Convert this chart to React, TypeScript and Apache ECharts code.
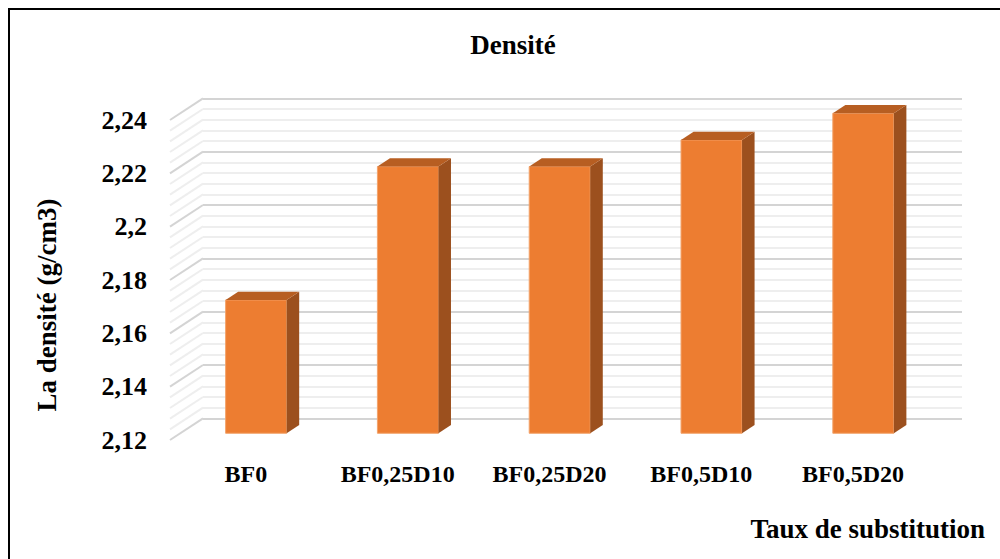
import React, { useEffect, useRef } from "react";
import * as echarts from "echarts";

// Density per mix
const categories = ["BF0", "BF0,25D10", "BF0,25D20", "BF0,5D10", "BF0,5D20"];
const densities = [2.17, 2.22, 2.22, 2.23, 2.24];

// Value axis
const yMin = 2.12;
const yMax = 2.24;
const yStep = 0.02;
const minorPerStep = 5;

const FONT = "Liberation Serif";

// Pseudo-3D depth: offset of the back wall relative to the front plane
const DEPTH_DX = 33;
const DEPTH_DY = -21.7;
// Bar front face and back face, as fractions of the depth
const BAR_FRONT = 0.31;
const BAR_BACK = 0.69;
const BAR_WIDTH = 0.402;

const fmt = (v: number) => String(parseFloat(v.toFixed(3))).replace(".", ",");

// Every back-wall line level (major + minor), used for the side diagonals
const gridLevels: number[] = [];
{
  const steps = Math.round((yMax - yMin) / yStep);
  for (let i = 0; i <= steps * minorPerStep; i++) {
    gridLevels.push(+(yMin + (i * yStep) / minorPerStep).toFixed(4));
  }
}

export default function App() {
  const ref = useRef<HTMLDivElement>(null);

  useEffect(() => {
    if (!ref.current) return;
    const chart = echarts.init(ref.current, undefined, { renderer: "svg" });

    const frontDx = DEPTH_DX * BAR_FRONT;
    const frontDy = DEPTH_DY * BAR_FRONT;
    const depthDx = DEPTH_DX * (BAR_BACK - BAR_FRONT);
    const depthDy = DEPTH_DY * (BAR_BACK - BAR_FRONT);

    const textBase = { color: "#000", fontFamily: FONT, fontWeight: "bold" as const };

    chart.setOption({
      animation: false,
      backgroundColor: "#ffffff",
      grid: [
        // front plane (labels, bars)
        { left: 170, top: 120, width: 759, height: 320 },
        // back wall (gridlines)
        { left: 203, top: 98.3, width: 759, height: 320 },
      ],
      xAxis: [
        {
          type: "category",
          gridIndex: 0,
          data: categories,
          boundaryGap: true,
          axisLine: { show: false },
          axisTick: { show: false },
          axisLabel: { ...textBase, margin: 22, fontSize: 24 },
        },
        {
          type: "category",
          gridIndex: 1,
          data: categories,
          show: false,
        },
      ],
      yAxis: [
        {
          type: "value",
          gridIndex: 0,
          min: yMin,
          max: yMax,
          interval: yStep,
          axisLine: { show: false },
          axisTick: { show: false },
          splitLine: { show: false },
          axisLabel: {
            ...textBase,
            margin: 23,
            fontSize: 26,
            formatter: (v: number) => fmt(v),
          },
        },
        {
          type: "value",
          gridIndex: 1,
          min: yMin,
          max: yMax,
          interval: yStep,
          axisLine: { show: false },
          axisTick: { show: false },
          axisLabel: { show: false },
          minorTick: { show: false, splitNumber: minorPerStep },
          splitLine: { show: true, lineStyle: { color: "#d4d4d4", width: 2 } },
          minorSplitLine: { show: true, lineStyle: { color: "#eeeeee", width: 2 } },
        },
      ],
      series: [
        {
          // diagonals joining the front plane to the back wall
          type: "custom",
          xAxisIndex: 0,
          yAxisIndex: 0,
          silent: true,
          z: 1,
          data: gridLevels.map((v) => [0, v]),
          renderItem: (params: any, api: any) => {
            const val = api.value(1);
            const p = api.coord([0, val]);
            const x0 = params.coordSys.x;
            const major = Math.abs((val - yMin) / yStep - Math.round((val - yMin) / yStep)) < 1e-6;
            return {
              type: "line",
              shape: { x1: x0, y1: p[1], x2: x0 + DEPTH_DX, y2: p[1] + DEPTH_DY },
              style: { stroke: major ? "#d4d4d4" : "#eeeeee", lineWidth: 2 },
            };
          },
        },
        {
          // 3D-looking bars
          type: "custom",
          xAxisIndex: 0,
          yAxisIndex: 0,
          z: 3,
          data: densities.map((v, i) => [i, v]),
          renderItem: (params: any, api: any) => {
            const idx = api.value(0);
            const val = api.value(1);
            const top = api.coord([idx, val]);
            const base = api.coord([idx, yMin]);
            const cw = api.size([1, 0])[0];
            const w = cw * BAR_WIDTH;
            const l = top[0] - w / 2 + frontDx;
            const r = l + w;
            const t = top[1] + frontDy;
            const b = base[1] + frontDy;
            return {
              type: "group",
              children: [
                {
                  type: "polygon",
                  shape: { points: [[l, t], [r, t], [r, b], [l, b]] },
                  style: { fill: "#ED7D31", stroke: "#F3A36B", lineWidth: 1 },
                },
                {
                  type: "polygon",
                  shape: {
                    points: [
                      [r, t],
                      [r + depthDx, t + depthDy],
                      [r + depthDx, b + depthDy],
                      [r, b],
                    ],
                  },
                  style: { fill: "#9C501E" },
                },
                {
                  type: "polygon",
                  shape: {
                    points: [
                      [l, t],
                      [l + depthDx, t + depthDy],
                      [r + depthDx, t + depthDy],
                      [r, t],
                    ],
                  },
                  style: { fill: "#B75E22" },
                },
              ],
            };
          },
        },
      ],
      graphic: [
        {
          type: "rect",
          shape: { x: 9, y: 9, width: 1000, height: 600 },
          style: { fill: "none", stroke: "#000", lineWidth: 2 },
          silent: true,
        },
        {
          type: "text",
          x: 513,
          y: 45,
          style: {
            text: "Densité",
            fill: "#000",
            fontFamily: FONT,
            fontWeight: "bold",
            fontSize: 27,
            align: "center",
            verticalAlign: "middle",
          },
        },
        {
          type: "text",
          x: 47,
          y: 305,
          rotation: Math.PI / 2,
          style: {
            text: "La densité (g/cm3)",
            fill: "#000",
            fontFamily: FONT,
            fontWeight: "bold",
            fontSize: 27,
            align: "center",
            verticalAlign: "middle",
          },
        },
        {
          type: "text",
          x: 985,
          y: 529,
          style: {
            text: "Taux de substitution",
            fill: "#000",
            fontFamily: FONT,
            fontWeight: "bold",
            fontSize: 27,
            align: "right",
            verticalAlign: "middle",
          },
        },
      ],
    });

    return () => chart.dispose();
  }, []);

  return (
    <div
      ref={ref}
      style={{ position: "fixed", left: 0, top: 0, width: 1000, height: 559 }}
    />
  );
}
